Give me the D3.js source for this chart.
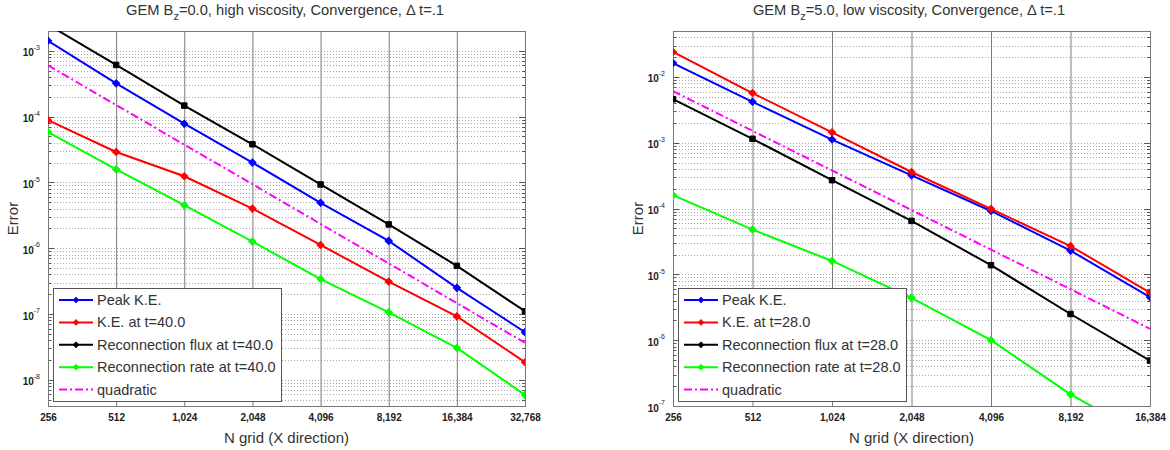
<!DOCTYPE html>
<html>
<head>
<meta charset="utf-8">
<script src="https://cdn.jsdelivr.net/npm/d3@7"></script>
<style>
  html, body { margin: 0; padding: 0; background: #fff; }
  svg { display: block; font-family: "Liberation Sans", Arial, Helvetica, sans-serif; }
</style>
</head>
<body>
<svg id="chart" width="1170" height="450"></svg>
<script>
// Grid resolutions (N in X direction)
const gridB0 = [256, 512, 1024, 2048, 4096, 8192, 16384, 32768];
const gridB5 = [256, 512, 1024, 2048, 4096, 8192, 16384];

// Bz = 0.0, high viscosity: errors vs resolution
const peakKE_B0   = [1.42e-3, 3.2e-4, 7.8e-5, 2.0e-5, 4.9e-6, 1.29e-6, 2.5e-7, 5.3e-8];
const keT_B0      = [8.8e-5, 2.9e-5, 1.24e-5, 4.0e-6, 1.12e-6, 3.1e-7, 9.2e-8, 1.85e-8];
const fluxT_B0    = [2.5e-3, 6.1e-4, 1.47e-4, 3.8e-5, 9.3e-6, 2.3e-6, 5.4e-7, 1.1e-7];
const rateT_B0    = [5.8e-5, 1.58e-5, 4.5e-6, 1.26e-6, 3.4e-7, 1.06e-7, 3.05e-8, 5.9e-9];
const quad_B0     = [6.0e-4, 1.5e-4, 3.75e-5, 9.4e-6, 2.34e-6, 5.9e-7, 1.46e-7, 3.66e-8];

// Bz = 5.0, low viscosity: errors vs resolution
const peakKE_B5   = [1.63e-2, 4.2e-3, 1.12e-3, 3.2e-4, 9.2e-5, 2.3e-5, 4.5e-6];
const keT_B5      = [2.4e-2, 5.7e-3, 1.44e-3, 3.6e-4, 9.9e-5, 2.7e-5, 5.3e-6];
const fluxT_B5    = [4.6e-3, 1.15e-3, 2.7e-4, 6.5e-5, 1.38e-5, 2.5e-6, 4.9e-7];
const rateT_B5    = [1.6e-4, 4.8e-5, 1.6e-5, 4.4e-6, 1.0e-6, 1.5e-7, 3.2e-8];
const quad_B5     = [6.1e-3, 1.52e-3, 3.8e-4, 9.5e-5, 2.38e-5, 5.96e-6, 1.49e-6];

// Legend labels and axis decades
const labelsB0 = ["Peak K.E.", "K.E. at t=40.0", "Reconnection flux at t=40.0", "Reconnection rate at t=40.0", "quadratic"];
const labelsB5 = ["Peak K.E.", "K.E. at t=28.0", "Reconnection flux at t=28.0", "Reconnection rate at t=28.0", "quadratic"];
const decadesB0 = [-8, -7, -6, -5, -4, -3];
const decadesB5 = [-7, -6, -5, -4, -3, -2];
const yDomainB0 = [4e-9, 2e-3];
const yDomainB5 = [1e-7, 5e-2];

const seriesStyle = [
  { color: "#0000ff", marker: "diamond", width: 2 },
  { color: "#ff0000", marker: "diamond", width: 2 },
  { color: "#000000", marker: "square",  width: 2 },
  { color: "#00ff00", marker: "diamond", width: 2 },
  { color: "#ff00ff", marker: null,      width: 2, dash: "8,3,2,3" }
];

const svg = d3.select("#chart");
const textColor = "#333";

// Marker shapes: a square rotated 45 degrees for the diamonds
function markerTransform(st, px, py) {
  return st.marker === "diamond" ? `translate(${px},${py}) rotate(45)` : `translate(${px},${py})`;
}

function drawPanel(opt) {
  const { left, right, top, bottom } = opt.box;
  const W = right - left, H = bottom - top;
  const g = svg.append("g");

  const x = d3.scaleLog().base(2).domain([opt.grid[0], opt.grid[opt.grid.length - 1]]).range([left, right]);
  const y = d3.scaleLog().domain(opt.yDomain).range([bottom, top]);

  const clipId = "clip-" + opt.id;
  svg.append("clipPath").attr("id", clipId)
    .append("rect").attr("x", left).attr("y", top).attr("width", W).attr("height", H);

  // Horizontal dotted grid at every 1..9 x 10^k
  const minor = [];
  for (let k = Math.floor(Math.log10(opt.yDomain[0])); k <= Math.ceil(Math.log10(opt.yDomain[1])); k++) {
    for (let m = 1; m <= 9; m++) {
      const v = m * Math.pow(10, k);
      if (v >= opt.yDomain[0] * 1.0001 && v <= opt.yDomain[1] * 0.9999) minor.push({ v, major: m === 1 });
    }
  }
  g.append("g").selectAll("line").data(minor).join("line")
    .attr("x1", left).attr("x2", right)
    .attr("y1", d => Math.round(y(d.v)) + 0.5).attr("y2", d => Math.round(y(d.v)) + 0.5)
    .attr("stroke", "#aaaaaa").attr("stroke-width", 1).attr("stroke-dasharray", "1,2");

  // Small inward ticks on both vertical edges
  g.append("g").selectAll("line").data(minor).join("line")
    .attr("x1", left).attr("x2", d => left + (d.major ? 6 : 3))
    .attr("y1", d => Math.round(y(d.v)) + 0.5).attr("y2", d => Math.round(y(d.v)) + 0.5)
    .attr("stroke", "#555");
  g.append("g").selectAll("line").data(minor).join("line")
    .attr("x1", right).attr("x2", d => right - (d.major ? 6 : 3))
    .attr("y1", d => Math.round(y(d.v)) + 0.5).attr("y2", d => Math.round(y(d.v)) + 0.5)
    .attr("stroke", "#555");

  // X axis: tick labels plus full-height vertical grid lines
  const xAxis = d3.axisBottom(x).tickValues(opt.grid).tickFormat(d3.format(","))
    .tickSizeInner(-H).tickSizeOuter(0).tickPadding(8);
  const xg = g.append("g").attr("transform", `translate(0,${bottom})`).call(xAxis);
  xg.select(".domain").remove();
  xg.selectAll(".tick line").attr("stroke", "#7a7a7a").attr("stroke-width", 1);
  xg.selectAll(".tick text").attr("fill", "#222").attr("font-size", 10).attr("font-weight", "bold")
    .attr("font-family", "\"Liberation Sans\", Arial, sans-serif");

  // Y axis: decade labels 10^k
  const yAxis = d3.axisLeft(y).tickValues(opt.decades.map(k => Math.pow(10, k)))
    .tickSize(0).tickPadding(9).tickFormat(() => "");
  const yg = g.append("g").attr("transform", `translate(${left},0)`).call(yAxis);
  yg.select(".domain").remove();
  yg.selectAll(".tick text").each(function (d) {
    const t = d3.select(this).attr("font-size", 10).attr("font-weight", "bold").attr("fill", "#222")
      .attr("font-family", "\"Liberation Sans\", Arial, sans-serif");
    t.append("tspan").text("10").attr("dy", "0.5em");
    t.append("tspan").text(Math.round(Math.log10(d))).attr("font-size", 7).attr("font-weight", "normal")
      .attr("dy", "-0.9em");
  });
  yg.selectAll(".tick text").attr("dy", null).attr("x", -8);

  // Frame
  g.append("rect").attr("x", left + 0.5).attr("y", top + 0.5).attr("width", W).attr("height", H)
    .attr("fill", "none").attr("stroke", "#777").attr("stroke-width", 1);

  // Data lines and markers
  const plot = g.append("g").attr("clip-path", `url(#${clipId})`);
  const line = d3.line().x((d, i) => x(opt.grid[i])).y(d => y(d));
  opt.series.forEach((vals, si) => {
    const st = seriesStyle[si];
    plot.append("path").datum(vals).attr("d", line)
      .attr("fill", "none").attr("stroke", st.color).attr("stroke-width", st.width)
      .attr("stroke-dasharray", st.dash || null);
    if (st.marker) {
      const sym = d3.symbol().type(d3.symbolSquare).size(st.marker === "square" ? 30 : 26);
      plot.append("g").selectAll("path").data(vals).join("path")
        .attr("transform", (d, i) => markerTransform(st, x(opt.grid[i]), y(d)))
        .attr("d", sym).attr("fill", st.color).attr("stroke", st.color).attr("stroke-width", 1);
    }
  });

  // Title
  const title = svg.append("text").attr("x", opt.titleX).attr("y", 15).attr("text-anchor", "middle")
    .attr("font-size", 14.7).attr("fill", textColor);
  title.append("tspan").text("GEM B");
  title.append("tspan").text("z").attr("font-size", 11).attr("dy", 5);
  title.append("tspan").text(opt.titleRest).attr("dy", -5);

  // Axis titles
  svg.append("text").attr("x", (left + right) / 2).attr("y", 443).attr("text-anchor", "middle")
    .attr("font-size", 15).attr("fill", textColor).text("N grid (X direction)");
  svg.append("text").attr("transform", `translate(${opt.yLabelX},${(top + bottom) / 2}) rotate(-90)`)
    .attr("text-anchor", "middle").attr("font-size", 15).attr("fill", textColor).text("Error");

  // Legend
  const lg = svg.append("g").attr("transform", `translate(${opt.legend.x},${opt.legend.y})`);
  lg.append("rect").attr("x", 0.5).attr("y", 0.5).attr("width", opt.legend.w).attr("height", opt.legend.h)
    .attr("fill", "#fff").attr("stroke", "#555").attr("stroke-width", 1);
  opt.labels.forEach((lab, i) => {
    const st = seriesStyle[i];
    const cy = 12 + i * 22.4;
    lg.append("line").attr("x1", 6).attr("x2", 40).attr("y1", cy).attr("y2", cy)
      .attr("stroke", st.color).attr("stroke-width", st.width).attr("stroke-dasharray", st.dash || null);
    if (st.marker) {
      lg.append("path").attr("transform", `translate(23,${cy}) rotate(45)`)
        .attr("d", d3.symbol().type(d3.symbolSquare).size(14)).attr("fill", st.color).attr("stroke", st.color);
    }
    lg.append("text").attr("x", 44).attr("y", cy + 5).attr("font-size", 14.5).attr("fill", textColor).text(lab);
  });
}

drawPanel({
  id: "b0",
  box: { left: 48, right: 525, top: 31, bottom: 406 },
  grid: gridB0,
  yDomain: yDomainB0,
  decades: decadesB0,
  series: [peakKE_B0, keT_B0, fluxT_B0, rateT_B0, quad_B0],
  labels: labelsB0,
  titleX: 285,
  titleRest: "=0.0, high viscosity, Convergence, \u0394 t=.1",
  yLabelX: 18,
  legend: { x: 53, y: 288, w: 228, h: 113 }
});

drawPanel({
  id: "b5",
  box: { left: 673, right: 1150, top: 31, bottom: 406 },
  grid: gridB5,
  yDomain: yDomainB5,
  decades: decadesB5,
  series: [peakKE_B5, keT_B5, fluxT_B5, rateT_B5, quad_B5],
  labels: labelsB5,
  titleX: 909,
  titleRest: "=5.0, low viscosity, Convergence, \u0394 t=.1",
  yLabelX: 643,
  legend: { x: 678, y: 288, w: 228, h: 113 }
});
</script>
</body>
</html>
